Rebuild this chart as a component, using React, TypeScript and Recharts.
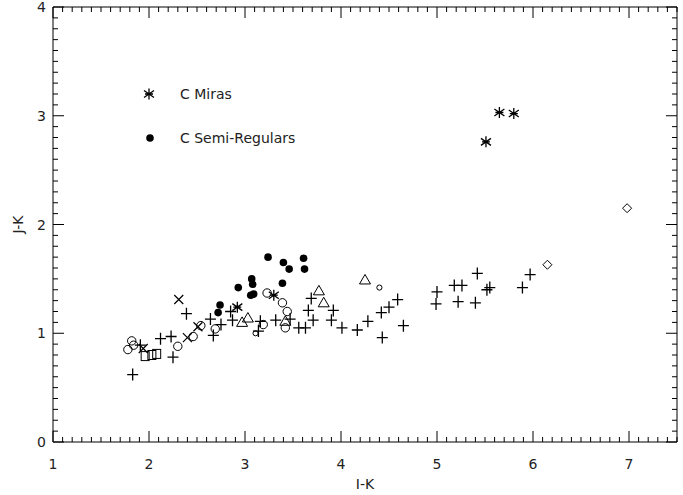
import React from "react";
import { ScatterChart, Scatter, XAxis, YAxis } from "recharts";

const W = 683;
const H = 495;

// I-K (x) against J-K (y), one list per plotting symbol
const cMiras = [
  { x: 5.51, y: 2.76 }, { x: 5.65, y: 3.03 }, { x: 5.8, y: 3.02 },
  { x: 2.92, y: 1.24 }, { x: 3.3, y: 1.35 },
];

const cSemiRegulars = [
  { x: 2.72, y: 1.19 }, { x: 2.74, y: 1.26 }, { x: 2.93, y: 1.42 },
  { x: 3.07, y: 1.5 }, { x: 3.08, y: 1.45 }, { x: 3.06, y: 1.35 },
  { x: 3.09, y: 1.36 }, { x: 3.24, y: 1.7 }, { x: 3.4, y: 1.65 },
  { x: 3.46, y: 1.59 }, { x: 3.39, y: 1.46 }, { x: 3.61, y: 1.69 },
  { x: 3.62, y: 1.59 },
];

const pluses = [
  { x: 1.83, y: 0.62 }, { x: 1.91, y: 0.89 }, { x: 2.12, y: 0.95 },
  { x: 2.23, y: 0.97 }, { x: 2.25, y: 0.78 }, { x: 2.39, y: 1.18 },
  { x: 2.64, y: 1.13 }, { x: 2.67, y: 0.98 }, { x: 2.75, y: 1.08 },
  { x: 2.85, y: 1.2 }, { x: 2.87, y: 1.12 }, { x: 3.16, y: 1.11 },
  { x: 3.14, y: 1.02 }, { x: 3.32, y: 1.12 }, { x: 3.47, y: 1.13 },
  { x: 3.69, y: 1.32 }, { x: 3.66, y: 1.21 }, { x: 3.56, y: 1.05 },
  { x: 3.63, y: 1.05 }, { x: 3.71, y: 1.12 }, { x: 3.9, y: 1.12 },
  { x: 3.92, y: 1.21 }, { x: 4.01, y: 1.05 }, { x: 4.17, y: 1.03 },
  { x: 4.28, y: 1.11 }, { x: 4.42, y: 1.19 }, { x: 4.5, y: 1.24 },
  { x: 4.59, y: 1.31 }, { x: 4.65, y: 1.07 }, { x: 4.43, y: 0.96 },
  { x: 5.0, y: 1.38 }, { x: 4.99, y: 1.27 }, { x: 5.18, y: 1.44 },
  { x: 5.26, y: 1.44 }, { x: 5.22, y: 1.29 }, { x: 5.4, y: 1.28 },
  { x: 5.42, y: 1.55 }, { x: 5.52, y: 1.4 }, { x: 5.55, y: 1.42 },
  { x: 5.89, y: 1.42 }, { x: 5.97, y: 1.54 },
];

const openCircles = [
  { x: 1.82, y: 0.93 }, { x: 1.78, y: 0.85 }, { x: 1.84, y: 0.89 },
  { x: 2.3, y: 0.88 }, { x: 2.46, y: 0.97 }, { x: 2.54, y: 1.07 },
  { x: 2.69, y: 1.04 }, { x: 3.23, y: 1.37 }, { x: 3.39, y: 1.28 },
  { x: 3.44, y: 1.2 }, { x: 3.42, y: 1.05 }, { x: 3.19, y: 1.08 },
];

const smallCircles = [
  { x: 3.11, y: 1.0 }, { x: 4.4, y: 1.42 },
];

const triangles = [
  { x: 2.97, y: 1.1 }, { x: 3.03, y: 1.14 }, { x: 3.42, y: 1.11 },
  { x: 3.77, y: 1.39 }, { x: 3.82, y: 1.28 }, { x: 4.25, y: 1.49 },
];

const crosses = [
  { x: 2.31, y: 1.31 }, { x: 1.94, y: 0.86 }, { x: 2.4, y: 0.96 },
  { x: 2.51, y: 1.06 },
];

const squares = [
  { x: 1.96, y: 0.79 }, { x: 2.03, y: 0.8 }, { x: 2.08, y: 0.81 },
];

const diamonds = [
  { x: 6.15, y: 1.63 }, { x: 6.98, y: 2.15 },
];

const xMajorTicks = [1, 2, 3, 4, 5, 6, 7];
const yMajorTicks = [0, 1, 2, 3, 4];

const steps = (from: number, to: number) => {
  const out: number[] = [];
  for (let i = Math.round(from * 10); i <= Math.round(to * 10); i++) out.push(i / 10);
  return out;
};
const xTicks = steps(1, 7.5);
const yTicks = steps(0, 4);

const ink = "#000";
const font = "'DejaVu Sans', 'Liberation Sans', sans-serif";
const txt = { fontFamily: font, fontSize: 14, fill: "#222" };
const MAJOR = 11;
const MINOR = 5;

const tickFor = (side: string, majors: number[], labels: boolean) => (p: any) => {
  const { x, y, payload } = p;
  const major = majors.includes(payload.value);
  const len = major ? MAJOR : MINOR;
  if (side === "bottom")
    return (
      <g>
        <line x1={x} y1={y} x2={x} y2={y - len} stroke={ink} />
        {labels && major && <text x={x} y={y + 27} textAnchor="middle" {...txt}>{payload.value}</text>}
      </g>
    );
  if (side === "top") return <line x1={x} y1={y} x2={x} y2={y + len} stroke={ink} />;
  if (side === "left")
    return (
      <g>
        <line x1={x} y1={y} x2={x + len} y2={y} stroke={ink} />
        {labels && major && <text x={x - 7} y={y + 5} textAnchor="end" {...txt}>{payload.value}</text>}
      </g>
    );
  return <line x1={x} y1={y} x2={x - len} y2={y} stroke={ink} />;
};

// plotting symbols
const Plus = ({ cx, cy }: any) => (
  <path d={`M${cx - 5.5},${cy}H${cx + 5.5}M${cx},${cy - 6}V${cy + 6}`} stroke={ink} strokeWidth={1.3} fill="none" />
);
const Cross = ({ cx, cy }: any) => (
  <path d={`M${cx - 4.5},${cy - 4.5}L${cx + 4.5},${cy + 4.5}M${cx - 4.5},${cy + 4.5}L${cx + 4.5},${cy - 4.5}`} stroke={ink} strokeWidth={1.2} fill="none" />
);
const Star = ({ cx, cy }: any) => (
  <path
    d={`M${cx},${cy - 5.5}V${cy + 5.5}M${cx - 5},${cy - 3.5}L${cx + 5},${cy + 3.5}M${cx - 5},${cy + 3.5}L${cx + 5},${cy - 3.5}M${cx - 4},${cy}H${cx + 4}`}
    stroke={ink}
    strokeWidth={1.3}
    fill="none"
  />
);
const Dot = ({ cx, cy }: any) => <circle cx={cx} cy={cy} r={3.8} fill={ink} />;
const Ring = ({ cx, cy }: any) => <circle cx={cx} cy={cy} r={4.2} fill="none" stroke={ink} strokeWidth={1} />;
const SmallRing = ({ cx, cy }: any) => <circle cx={cx} cy={cy} r={2.6} fill="none" stroke={ink} strokeWidth={1} />;
const Triangle = ({ cx, cy }: any) => (
  <path d={`M${cx},${cy - 5.5}L${cx + 5.5},${cy + 4}L${cx - 5.5},${cy + 4}Z`} fill="none" stroke={ink} strokeWidth={1} />
);
const Square = ({ cx, cy }: any) => (
  <rect x={cx - 4} y={cy - 4.5} width={8} height={9} fill="none" stroke={ink} strokeWidth={1} />
);
const Diamond = ({ cx, cy }: any) => (
  <path d={`M${cx},${cy - 4.5}L${cx + 4.5},${cy}L${cx},${cy + 4.5}L${cx - 4.5},${cy}Z`} fill="none" stroke={ink} strokeWidth={1} />
);

const series = [
  { name: "pluses", data: pluses, shape: Plus },
  { name: "openCircles", data: openCircles, shape: Ring },
  { name: "smallCircles", data: smallCircles, shape: SmallRing },
  { name: "triangles", data: triangles, shape: Triangle },
  { name: "crosses", data: crosses, shape: Cross },
  { name: "squares", data: squares, shape: Square },
  { name: "diamonds", data: diamonds, shape: Diamond },
  { name: "C Semi-Regulars", data: cSemiRegulars, shape: Dot },
  { name: "C Miras", data: cMiras, shape: Star },
];

export default function App() {
  return (
    <div style={{ position: "absolute", left: 0, top: 0, width: W, height: H, background: "#fff" }}>
      <ScatterChart width={W} height={H} margin={{ top: 6, right: 5, bottom: 0, left: 0 }}>
        <XAxis
          xAxisId="bottom"
          dataKey="x"
          type="number"
          domain={[1, 7.5]}
          ticks={xTicks}
          interval={0}
          allowDataOverflow
          height={53}
          tickSize={0}
          tickMargin={0}
          tickLine={false}
          axisLine={{ stroke: ink }}
          tick={tickFor("bottom", xMajorTicks, true)}
          label={{
            content: ({ viewBox }: any) => (
              <text x={viewBox.x + viewBox.width / 2} y={viewBox.y + 47} textAnchor="middle" {...txt}>I-K</text>
            ),
          }}
        />
        {/* top frame edge, ticks only */}
        <XAxis
          xAxisId="top"
          orientation="top"
          dataKey="x"
          type="number"
          domain={[1, 7.5]}
          ticks={xTicks}
          interval={0}
          allowDataOverflow
          height={1}
          tickSize={0}
          tickMargin={0}
          tickLine={false}
          axisLine={{ stroke: ink }}
          tick={tickFor("top", xMajorTicks, false)}
        />
        <YAxis
          yAxisId="left"
          dataKey="y"
          type="number"
          domain={[0, 4]}
          ticks={yTicks}
          interval={0}
          allowDataOverflow
          width={53}
          tickSize={0}
          tickMargin={0}
          tickLine={false}
          axisLine={{ stroke: ink }}
          tick={tickFor("left", yMajorTicks, true)}
          label={{
            content: ({ viewBox }: any) => {
              const cy = viewBox.y + viewBox.height / 2;
              return (
                <text x={23} y={cy} transform={`rotate(-90, 23, ${cy})`} textAnchor="middle" {...txt}>J-K</text>
              );
            },
          }}
        />
        {/* right frame edge, ticks only */}
        <YAxis
          yAxisId="right"
          orientation="right"
          dataKey="y"
          type="number"
          domain={[0, 4]}
          ticks={yTicks}
          interval={0}
          allowDataOverflow
          width={1}
          tickSize={0}
          tickMargin={0}
          tickLine={false}
          axisLine={{ stroke: ink }}
          tick={tickFor("right", yMajorTicks, false)}
        />
        {series.map((s) => (
          <Scatter
            key={s.name}
            name={s.name}
            data={s.data}
            xAxisId="bottom"
            yAxisId="left"
            shape={s.shape}
            isAnimationActive={false}
          />
        ))}
      </ScatterChart>

      {/* legend block, upper left of the frame */}
      <svg width={W} height={H} style={{ position: "absolute", left: 0, top: 0, pointerEvents: "none" }}>
        <Star cx={149} cy={94} />
        <text x={180} y={99} {...txt}>C Miras</text>
        <Dot cx={150} cy={138} />
        <text x={180} y={143} {...txt}>C Semi-Regulars</text>
      </svg>
    </div>
  );
}
